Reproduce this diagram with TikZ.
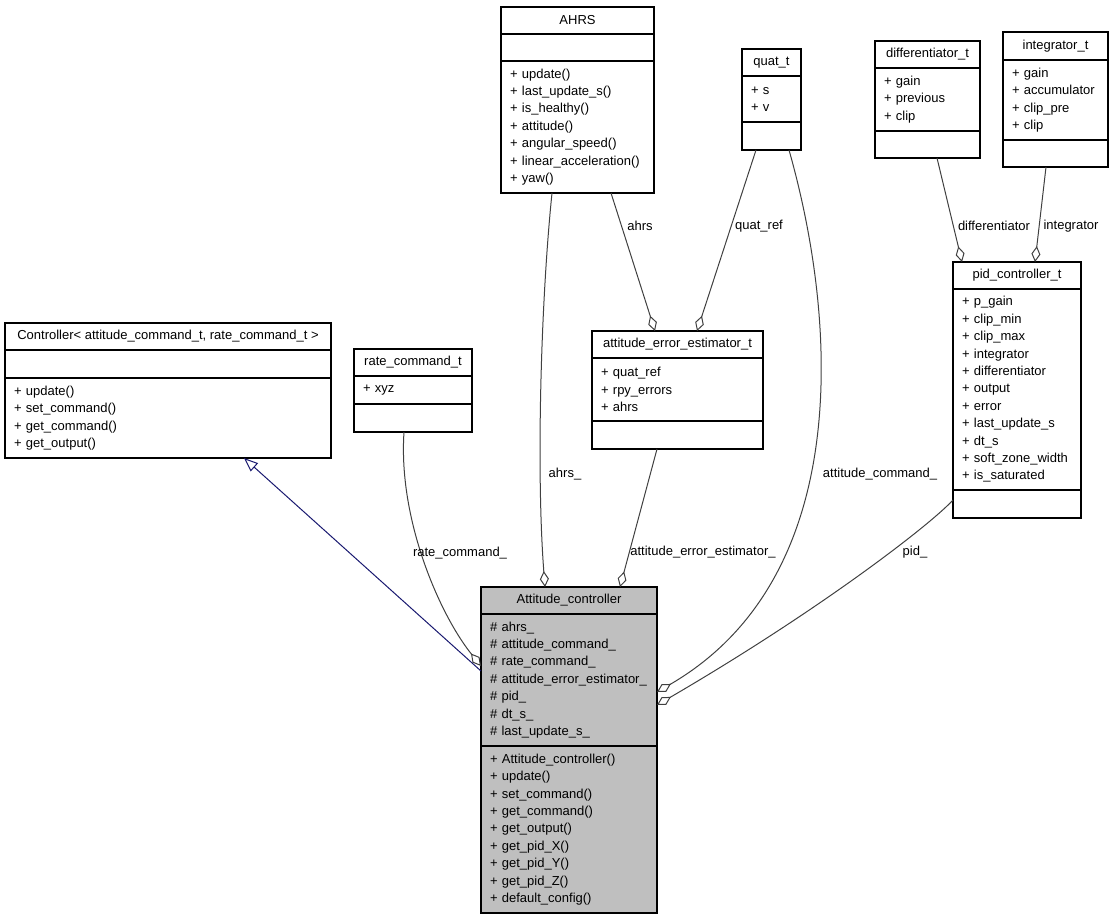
\documentclass[tikz,border=0pt]{standalone}
\usepackage{fontspec}
\setmainfont{Liberation Sans}
\usetikzlibrary{positioning}
\usetikzlibrary{calc}
\usetikzlibrary{arrows.meta}

\definecolor{edgegray}{HTML}{404040}
\definecolor{inhblue}{HTML}{191970}
\definecolor{curgray}{HTML}{BFBFBF}

\tikzset{
    clshead/.style={draw, line width=1.1pt, fill=white, outer sep=0pt, inner sep=0pt,
        minimum height=27pt, font=\fontsize{13}{17.4}\selectfont},
    members/.style={draw, line width=1.1pt, fill=white, outer sep=0pt, inner xsep=9pt,
        inner ysep=0pt, align=left, font=\fontsize{13}{17.4}\selectfont},
    lbl/.style={inner sep=1pt, font=\fontsize{13}{17.4}\selectfont},
    agg/.style={draw=edgegray, line width=1pt, -{Diamond[open, length=16pt, width=9pt]}},
    inherit/.style={draw=inhblue, line width=1pt, -{Triangle[open, length=14pt, width=11pt]}},
}

\begin{document}
\begin{tikzpicture}[x=1pt, y=-1pt]
    \useasboundingbox (0,0) rectangle (1113,920);

    % classes
    \node[clshead, minimum width=153pt, anchor=north west] (ahrs) at (501,7) {AHRS};
    \node[members, text width=135pt, minimum height=27pt, below=0pt of ahrs] (ahrs-at) {};
    \node[members, text width=135pt, minimum height=132pt, below=0pt of ahrs-at] (ahrs-op)
        {+ update()\\+ last\_update\_s()\\+ is\_healthy()\\+ attitude()\\+ angular\_speed()\\+ linear\_acceleration()\\+ yaw()};

    \node[clshead, minimum width=59pt, anchor=north west] (quat) at (742,49) {quat\_t};
    \node[members, text width=41pt, minimum height=46pt, below=0pt of quat] (quat-at) {+ s\\+ v};
    \node[members, text width=41pt, minimum height=28pt, below=0pt of quat-at] (quat-op) {};

    \node[clshead, minimum width=105pt, anchor=north west] (diff) at (875,41) {differentiator\_t};
    \node[members, text width=87pt, minimum height=63pt, below=0pt of diff] (diff-at) {+ gain\\+ previous\\+ clip};
    \node[members, text width=87pt, minimum height=27pt, below=0pt of diff-at] (diff-op) {};

    \node[clshead, minimum width=105pt, minimum height=28pt, anchor=north west] (integ) at (1003,32) {integrator\_t};
    \node[members, text width=87pt, minimum height=80pt, below=0pt of integ] (integ-at) {+ gain\\+ accumulator\\+ clip\_pre\\+ clip};
    \node[members, text width=87pt, minimum height=27pt, below=0pt of integ-at] (integ-op) {};

    \node[clshead, minimum width=326pt, anchor=north west] (ctrl) at (5,323) {Controller< attitude\_command\_t, rate\_command\_t >};
    \node[members, text width=308pt, minimum height=28pt, below=0pt of ctrl] (ctrl-at) {};
    \node[members, text width=308pt, minimum height=80pt, below=0pt of ctrl-at] (ctrl-op)
        {+ update()\\+ set\_command()\\+ get\_command()\\+ get\_output()};

    \node[clshead, minimum width=118pt, anchor=north west] (rate) at (354,349) {rate\_command\_t};
    \node[members, text width=100pt, minimum height=28pt, below=0pt of rate] (rate-at) {+ xyz};
    \node[members, text width=100pt, minimum height=28pt, below=0pt of rate-at] (rate-op) {};

    \node[clshead, minimum width=171pt, anchor=north west] (aee) at (592,331) {attitude\_error\_estimator\_t};
    \node[members, text width=153pt, minimum height=63pt, below=0pt of aee] (aee-at) {+ quat\_ref\\+ rpy\_errors\\+ ahrs};
    \node[members, text width=153pt, minimum height=28pt, below=0pt of aee-at] (aee-op) {};

    \node[clshead, minimum width=128pt, anchor=north west] (pid) at (953,262) {pid\_controller\_t};
    \node[members, text width=110pt, minimum height=201pt, below=0pt of pid] (pid-at)
        {+ p\_gain\\+ clip\_min\\+ clip\_max\\+ integrator\\+ differentiator\\+ output\\+ error\\+ last\_update\_s\\+ dt\_s\\+ soft\_zone\_width\\+ is\_saturated};
    \node[members, text width=110pt, minimum height=28pt, below=0pt of pid-at] (pid-op) {};

    \node[clshead, fill=curgray, minimum width=176pt, anchor=north west] (att) at (481,587) {Attitude\_controller};
    \node[members, fill=curgray, text width=158pt, minimum height=132pt, below=0pt of att] (att-at)
        {\# ahrs\_\\\# attitude\_command\_\\\# rate\_command\_\\\# attitude\_error\_estimator\_\\\# pid\_\\\# dt\_s\_\\\# last\_update\_s\_};
    \node[members, fill=curgray, text width=158pt, minimum height=167pt, below=0pt of att-at] (att-op)
        {+ Attitude\_controller()\\+ update()\\+ set\_command()\\+ get\_command()\\+ get\_output()\\+ get\_pid\_X()\\+ get\_pid\_Y()\\+ get\_pid\_Z()\\+ default\_config()};

    % edges
    \draw[inherit] ($(att-at.west)+(0,-9)$) -- ($(ctrl-op.south)+(76,0)$);
    \draw[agg] ($(rate-op.south)+(-9,0)$) .. controls (398,520) and (440,615) .. ($(att-at.west)+(0,-14)$);
    \draw[agg] ($(ahrs-op.south)+(-25.5,0)$) .. controls (541,300) and (536,470) .. ($(att.north)+(-24,0)$);
    \draw[agg] ($(aee-op.south)+(-20.5,0)$) -- ($(att.north)+(51,0)$);
    \draw[agg] ($(quat-op.south)+(17.5,0)$) .. controls (840,330) and (850,580) .. ($(att-at.east)+(0,12)$);
    \draw[agg] ($(pid-op.west)+(0,-4)$) .. controls (930,525) and (820,610) .. ($(att-at.east)+(0,25)$);
    \draw[agg] ($(ahrs-op.south)+(33.5,0)$) -- ($(aee.north)+(-22.5,0)$);
    \draw[agg] ($(quat-op.south)+(-15.5,0)$) -- ($(aee.north)+(19.5,0)$);
    \draw[agg] ($(diff-op.south)+(9.5,0)$) -- ($(pid.north)+(-55,0)$);
    \draw[agg] ($(integ-op.south)+(-9.5,0)$) -- ($(pid.north)+(18,0)$);

    % edge labels
    \node[lbl] (l-ahrsm) at (565,474) {ahrs\_};
    \node[lbl] (l-rate) at (460,553) {rate\_command\_};
    \node[lbl] (l-aee) at (703,552) {attitude\_error\_estimator\_};
    \node[lbl] (l-attcmd) at (880,474) {attitude\_command\_};
    \node[lbl] (l-pid) at (915,552) {pid\_};
    \node[lbl] (l-ahrs) at (640,226) {ahrs};
    \node[lbl] (l-quat) at (759,226) {quat\_ref};
    \node[lbl] (l-diff) at (994,226) {differentiator};
    \node[lbl] (l-integ) at (1071,226) {integrator};
\end{tikzpicture}
\end{document}
